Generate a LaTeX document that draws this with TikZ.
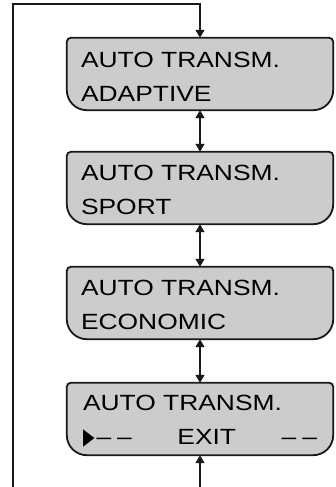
\documentclass[tikz,border=0pt]{standalone}
\usepackage{fontspec}
\usepackage{graphicx}
\setmainfont{Liberation Sans}
\newfontfamily\screenfont{Liberation Sans}[FakeStretch=1.2]
\newfontfamily\symfont{DejaVu Sans}
\usetikzlibrary{arrows.meta,backgrounds}
\definecolor{screen}{RGB}{204,204,204}
\definecolor{ink}{RGB}{25,25,25}
\newcommand{\cursor}{{\symfont\fontsize{20}{20}\selectfont\scalebox{0.75}[1.15]{▶}}}

\begin{document}
\begin{tikzpicture}[x=1pt,y=-1pt,
  display/.style={minimum width=266pt,minimum height=72pt,inner xsep=14pt,inner ysep=0pt,
    text width=238pt,align=left,font=\screenfont\fontsize{22}{34}\selectfont,
    execute at begin node=\rule{0pt}{20pt}},
  link/.style={draw=ink,line width=1.1pt,-{Triangle[length=8pt,width=9pt]}},
  both/.style={link,{Triangle[length=8pt,width=9pt]}-{Triangle[length=8pt,width=9pt]}}]
\useasboundingbox (0,0) rectangle (336,487);
\node[display] (adaptive) at (200,74) {AUTO TRANSM.\\ADAPTIVE};
\node[display] (sport) at (200,188) {AUTO TRANSM.\\SPORT};
\node[display] (economic) at (200,303) {AUTO TRANSM.\\ECONOMIC};
\node[display,inner xsep=16pt,text width=234pt] (exit) at (200,419) {AUTO TRANSM.\\
  \makebox[\linewidth]{\cursor\hspace{2pt}–\hspace{6pt}–\hfill EXIT\hfill –\hspace{6pt}–}};
% screen outlines: small top corners, large bottom corners
\begin{scope}[on background layer]
\foreach \n in {adaptive,sport,economic,exit}
  \draw[fill=screen,draw=ink,line width=1.8pt] ([xshift=4pt]\n.north west) -- ([xshift=-4pt]\n.north east)
    arc[start angle=90,end angle=0,radius=4pt] -- ([yshift=20pt]\n.south east)
    arc[start angle=0,end angle=-90,radius=20pt] -- ([xshift=20pt]\n.south west)
    arc[start angle=270,end angle=180,radius=20pt] -- ([yshift=-4pt]\n.north west)
    arc[start angle=180,end angle=90,radius=4pt] -- cycle;
\end{scope}
\coordinate (loopin) at (13,487); \coordinate (looptop) at (200,4); \coordinate (exitin) at (200,487);
\draw[link] (loopin) |- (looptop) -- (adaptive.north);
\draw[both] (adaptive.south) -- (sport.north);
\draw[both] (sport.south) -- (economic.north);
\draw[both] (economic.south) -- (exit.north);
\draw[link] (exitin) -- (exit.south);
\end{tikzpicture}
\end{document}
